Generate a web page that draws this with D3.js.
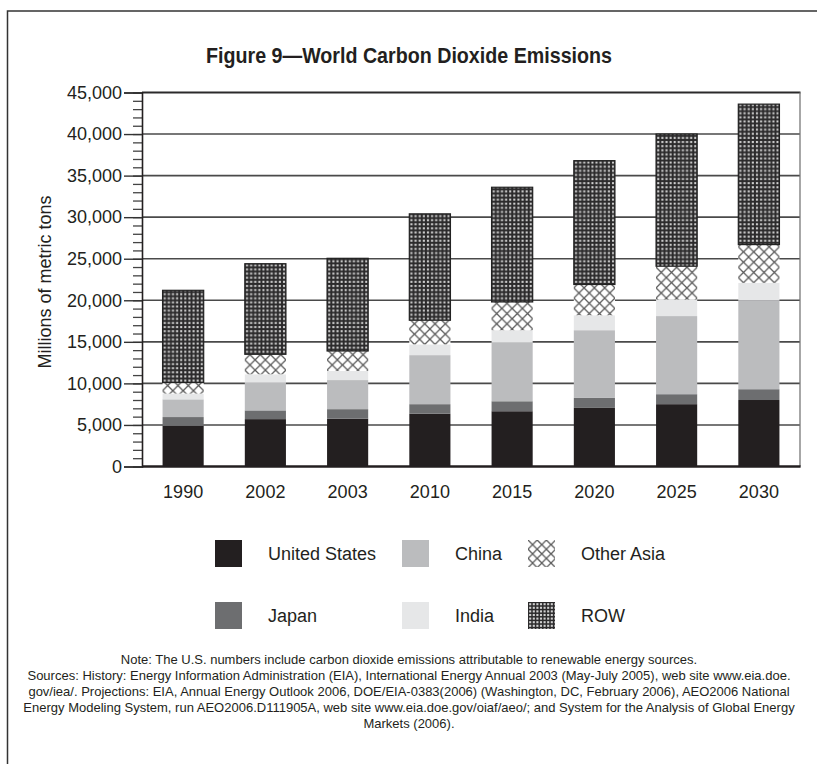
<!DOCTYPE html>
<html>
<head>
<meta charset="utf-8">
<script src="https://cdn.jsdelivr.net/npm/d3@7"></script>
<style>
  html, body { margin: 0; padding: 0; background: #fff; }
  svg { display: block; }
  text { font-family: "Liberation Sans", Arial, sans-serif; fill: #231f20; }
</style>
</head>
<body>
<svg id="chart" width="817" height="764"></svg>
<script>
// ---------- data ----------
const years = ["1990", "2002", "2003", "2010", "2015", "2020", "2025", "2030"];
const unitedStates = [4900, 5700, 5750, 6350, 6650, 7050, 7500, 8000];
const japan        = [1050, 1050, 1150, 1150, 1200, 1200, 1200, 1300];
const china        = [2130, 3350, 3500, 5900, 7050, 8150, 9400, 10700];
const india        = [690, 1000, 1100, 1300, 1500, 1800, 2000, 2100];
const otherAsia    = [1330, 2400, 2400, 2900, 3400, 3700, 4000, 4600];
const restOfWorld  = [11100, 10900, 11150, 12800, 13800, 14900, 15900, 16900];
const seriesNames  = ["United States", "Japan", "China", "India", "Other Asia", "ROW"];
const yTickValues  = [0, 5000, 10000, 15000, 20000, 25000, 30000, 35000, 40000, 45000];
const titleText    = "Figure 9\u2014World Carbon Dioxide Emissions";
const yAxisTitle   = "Millions of metric tons";
const noteLines = [
  "Note: The U.S. numbers include carbon dioxide emissions attributable to renewable energy sources.",
  "Sources: History: Energy Information Administration (EIA), International Energy Annual 2003 (May-July 2005), web site www.eia.doe.",
  "gov/iea/. Projections: EIA, Annual Energy Outlook 2006, DOE/EIA-0383(2006) (Washington, DC, February 2006), AEO2006 National",
  "Energy Modeling System, run AEO2006.D111905A, web site www.eia.doe.gov/oiaf/aeo/; and System for the Analysis of Global Energy",
  "Markets (2006)."
];

// ---------- table ----------
const seriesArrays = [unitedStates, japan, china, india, otherAsia, restOfWorld];
const table = years.map((y, i) => {
  const r = { year: y };
  seriesNames.forEach((s, k) => { r[s] = seriesArrays[k][i]; });
  return r;
});

// ---------- layout ----------
const svg = d3.select("#chart");
const plot = { left: 142, right: 800, top: 92.5, bottom: 466.5 };

const x = d3.scaleBand().domain(years).range([plot.left, plot.right])
  .paddingInner(0.5).paddingOuter(0.25);
const y = d3.scaleLinear().domain([0, 45000]).range([plot.bottom, plot.top]);

const fills = {
  "United States": "#231f20",
  "Japan": "#6d6e70",
  "China": "#bbbcbe",
  "India": "#e6e7e8",
  "Other Asia": "url(#patOA)",
  "ROW": "url(#patROW)"
};

// ---------- patterns ----------
const defs = svg.append("defs");
const cell = x.bandwidth() / 2;
function makeRowPattern(id, ox, oy, size) {
  const p = defs.append("pattern").attr("id", id).attr("patternUnits", "userSpaceOnUse")
    .attr("x", ox).attr("y", oy).attr("width", size).attr("height", size);
  p.append("rect").attr("width", size).attr("height", size).attr("fill", "#2b2a2b");
  const n = 5, sub = size / n;
  for (let i = 0; i < n; i++) for (let j = 0; j < n; j++) {
    p.append("rect").attr("x", 1.15 + i * sub).attr("y", 1.15 + j * sub)
      .attr("width", 2.1).attr("height", 2.1).attr("fill", "#cfcfcf");
  }
}
function makeOAPattern(id, ox, oy, size) {
  const p = defs.append("pattern").attr("id", id).attr("patternUnits", "userSpaceOnUse")
    .attr("x", ox).attr("y", oy).attr("width", size).attr("height", size);
  p.append("rect").attr("width", size).attr("height", size).attr("fill", "#fff");
  p.append("path").attr("d", `M0,0L${size},${size}M${size},0L0,${size}`)
    .attr("stroke", "#5a5a5a").attr("stroke-width", 1.3).attr("fill", "none");
}
makeRowPattern("patROW", x(years[0]), 0, cell);
makeOAPattern("patOA", x(years[0]), 0, cell / 2);
makeRowPattern("patROWleg", 528, 602, 18);
makeOAPattern("patOAleg", 528, 540, 9.2);

// ---------- outer border ----------
svg.append("path").attr("d", "M7.5,800V11H830")
  .attr("fill", "none").attr("stroke", "#333").attr("stroke-width", 1.5);

// ---------- title ----------
svg.append("text").attr("x", 409).attr("y", 63).attr("text-anchor", "middle")
  .attr("font-size", 22).attr("font-weight", "bold")
  .attr("textLength", 406).attr("lengthAdjust", "spacingAndGlyphs")
  .text(titleText);

// ---------- gridlines ----------
svg.append("g").selectAll("line").data(yTickValues.filter(v => v > 0 && v < 45000)).join("line")
  .attr("x1", plot.left).attr("x2", plot.right)
  .attr("y1", d => y(d)).attr("y2", d => y(d))
  .attr("stroke", "#4a4a4a").attr("stroke-width", 1.6);

// ---------- bars ----------
const stacked = d3.stack().keys(seriesNames)(table);
const gBars = svg.append("g");
stacked.forEach(layer => {
  gBars.append("g").selectAll("rect").data(layer).join("rect")
    .attr("x", d => x(d.data.year))
    .attr("width", x.bandwidth())
    .attr("y", d => y(d[1]))
    .attr("height", d => y(d[0]) - y(d[1]))
    .attr("fill", fills[layer.key])
    .attr("stroke", layer.key === "ROW" ? "#222" : "none")
    .attr("stroke-width", layer.key === "ROW" ? 1.2 : 0);
});

// ---------- frame ----------
svg.append("line").attr("x1", plot.left).attr("x2", plot.right + 0.5)
  .attr("y1", plot.top).attr("y2", plot.top).attr("stroke", "#2b2a2b").attr("stroke-width", 2);
svg.append("line").attr("x1", plot.right).attr("x2", plot.right)
  .attr("y1", plot.top).attr("y2", plot.bottom).attr("stroke", "#777").attr("stroke-width", 1.3);

// ---------- y axis ----------
const minorTicks = d3.range(0, 45001, 1000);
const yAxisMinor = d3.axisLeft(y).tickValues(minorTicks).tickSize(9).tickFormat("");
const gMinor = svg.append("g").attr("transform", `translate(${plot.left},0)`).call(yAxisMinor);
gMinor.select(".domain").remove();
gMinor.selectAll("line").attr("stroke", "#444").attr("stroke-width", 1.3);

const yAxis = d3.axisLeft(y).tickValues(yTickValues).tickSize(18).tickPadding(2)
  .tickFormat(d3.format(","));
const gY = svg.append("g").attr("transform", `translate(${plot.left},0)`).call(yAxis);
gY.select(".domain").attr("stroke", "#231f20").attr("stroke-width", 1.6);
gY.selectAll("line").attr("stroke", "#333").attr("stroke-width", 1.4);
gY.selectAll("text").attr("font-size", 18).attr("fill", "#231f20")
  .style("font-family", '"Liberation Sans", Arial, sans-serif');

svg.append("text").attr("transform", "translate(51,282) rotate(-90)")
  .attr("text-anchor", "middle").attr("font-size", 18).text(yAxisTitle);

// ---------- x axis ----------
const xAxis = d3.axisBottom(x).tickSize(0).tickPadding(19);
const gX = svg.append("g").attr("transform", `translate(0,${plot.bottom})`).call(xAxis);
gX.select(".domain").attr("stroke", "#231f20").attr("stroke-width", 2.4)
  .attr("d", `M${plot.left},0H${plot.right + 0.6}`);
gX.selectAll("text").attr("font-size", 18).attr("fill", "#231f20")
  .style("font-family", '"Liberation Sans", Arial, sans-serif');

// ---------- legend ----------
const legendItems = [
  { name: "United States", fill: fills["United States"], sx: 215, sy: 540 },
  { name: "China", fill: fills["China"], sx: 402, sy: 540 },
  { name: "Other Asia", fill: "url(#patOAleg)", sx: 528, sy: 540 },
  { name: "Japan", fill: fills["Japan"], sx: 215, sy: 602 },
  { name: "India", fill: fills["India"], sx: 402, sy: 602 },
  { name: "ROW", fill: "url(#patROWleg)", sx: 528, sy: 602 }
];
const gLeg = svg.append("g");
gLeg.selectAll("rect").data(legendItems).join("rect")
  .attr("x", d => d.sx).attr("y", d => d.sy).attr("width", 27).attr("height", 27)
  .attr("fill", d => d.fill);
gLeg.selectAll("text").data(legendItems).join("text")
  .attr("x", d => d.sx + 53).attr("y", d => d.sy + 13.5).attr("dy", "0.35em")
  .attr("font-size", 18).text(d => d.name);

// ---------- notes ----------
const noteY = [664, 680, 696, 712, 728];
const notes = svg.append("g").selectAll("text").data(noteLines).join("text")
  .attr("x", 409).attr("y", (d, i) => noteY[i]).attr("text-anchor", "middle")
  .attr("font-size", 13)
  .text(d => d);
// fit the longest line inside the frame width
let maxW = 0;
notes.each(function () { maxW = Math.max(maxW, this.getComputedTextLength()); });
const fs = Math.min(13, 13 * 790 / maxW);
notes.attr("font-size", fs);
</script>
</body>
</html>
